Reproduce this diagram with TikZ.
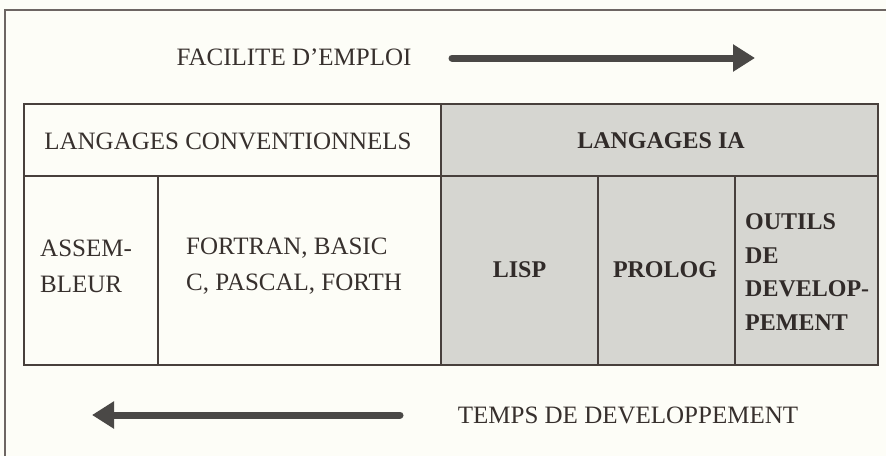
\documentclass[tikz,border=0pt]{standalone}
\usepackage{fontspec}
\setmainfont{Liberation Serif}
\usetikzlibrary{arrows.meta}
\definecolor{bgcol}{RGB}{253,253,247}
\definecolor{linecol}{RGB}{72,64,60}
\definecolor{shadecol}{RGB}{214,214,209}
\definecolor{textcol}{RGB}{55,48,45}
\definecolor{arrowcol}{RGB}{74,72,70}
\tikzset{
  cellbox/.style={draw=linecol, line width=2pt},
  plaincell/.style={cellbox, fill=bgcol},
  shadedcell/.style={cellbox, fill=shadecol},
  lbl/.style={text=textcol, font=\fontsize{25}{36}\selectfont, inner sep=0pt},
  blbl/.style={text=textcol!90!black, font=\fontsize{24}{33.5}\selectfont\bfseries, inner sep=0pt},
  bigarrow/.style={draw=arrowcol, line width=7pt, line cap=round, -{Triangle[length=22pt,width=26pt]}}
}
\begin{document}
\begin{tikzpicture}[x=1pt,y=-1pt]
\useasboundingbox (0,0) rectangle (886,456);
\fill[bgcol] (0,0) rectangle (886,456);
% outer frame (cropped)
\draw[linecol!80, line width=1.5pt] (5,456) -- (5,10) -- (886,10);
% header row
\draw[plaincell] (24,104) rectangle (441,176);
\draw[shadedcell] (441,104) rectangle (878,176);
% body row
\draw[plaincell] (24,176) rectangle (158,365);
\draw[plaincell] (158,176) rectangle (441,365);
\draw[shadedcell] (441,176) rectangle (598,365);
\draw[shadedcell] (598,176) rectangle (735,365);
\draw[shadedcell] (735,176) rectangle (878,365);
% texts
\node[lbl] (fac) at (294,57) {FACILITE D’EMPLOI};
\node[lbl] (temps) at (628,415) {TEMPS DE DEVELOPPEMENT};
\node[lbl] (conv) at (228,141) {LANGAGES CONVENTIONNELS};
\node[blbl] (ia) at (661,141) {LANGAGES IA};
\node[lbl, anchor=west, align=left] (asm) at (40,266) {ASSEM-\\BLEUR};
\node[lbl, anchor=west, align=left] (fort) at (186,266) {FORTRAN, BASIC\\C, PASCAL, FORTH};
\node[blbl] (lisp) at (519.5,270) {LISP};
\node[blbl] (prolog) at (665,270) {PROLOG};
\node[blbl, anchor=west, align=left] (outils) at (745,272) {OUTILS\\DE\\DEVELOP-\\PEMENT};
% arrows
\coordinate (a1s) at (452,58);
\coordinate (a1e) at (755,58);
\coordinate (a2s) at (400,415);
\coordinate (a2e) at (92,415);
\draw[bigarrow] (a1s) -- (a1e);
\draw[bigarrow] (a2s) -- (a2e);
\end{tikzpicture}
\end{document}
